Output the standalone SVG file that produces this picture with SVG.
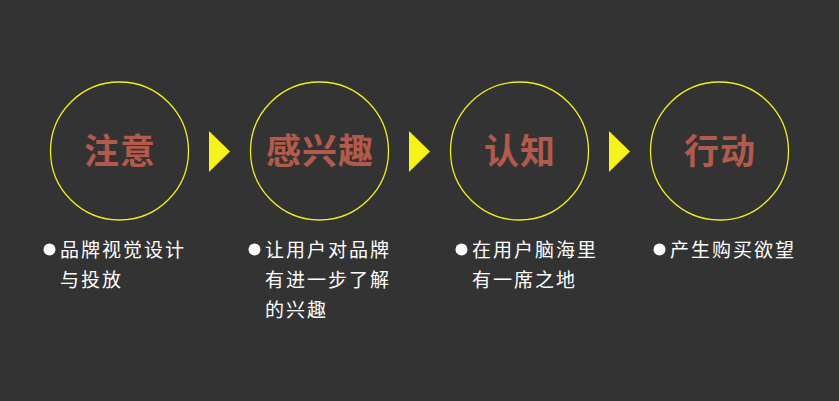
<svg xmlns="http://www.w3.org/2000/svg" width="839" height="401" viewBox="0 0 839 401">
<style>
.ring{fill:none;stroke:#f2ef1f;stroke-width:1.3}
.arrow{fill:#f7f21a}
.title{font-family:"Noto Sans CJK SC",sans-serif;font-weight:bold;font-size:35px;fill:#b25a4b;text-anchor:middle;letter-spacing:1px}
.desc{font-family:"Noto Sans CJK SC",sans-serif;font-size:19px;fill:#ffffff;letter-spacing:2px}
.dot{fill:#ffffff}
</style>
<rect width="839" height="401" fill="#333333"/>
<g id="connectors">
<polygon class="arrow" points="209,131 230,151.5 209,172"/>
<polygon class="arrow" points="409,131 430,151.5 409,172"/>
<polygon class="arrow" points="609,131 630,151.5 609,172"/>
</g>
<g id="node1">
<circle class="ring" cx="119.5" cy="151" r="69"/>
<text class="title" x="120" y="164">注意</text>
<circle class="dot" cx="49.5" cy="249.5" r="6"/>
<text class="desc" x="60" y="257">品牌视觉设计</text>
<text class="desc" x="60" y="287">与投放</text>
</g>
<g id="node2">
<circle class="ring" cx="319.5" cy="151" r="69"/>
<text class="title" x="320" y="164">感兴趣</text>
<circle class="dot" cx="254.5" cy="249.5" r="6"/>
<text class="desc" x="265" y="257">让用户对品牌</text>
<text class="desc" x="265" y="287">有进一步了解</text>
<text class="desc" x="265" y="317">的兴趣</text>
</g>
<g id="node3">
<circle class="ring" cx="519.5" cy="151" r="69"/>
<text class="title" x="520" y="164">认知</text>
<circle class="dot" cx="461.5" cy="249.5" r="6"/>
<text class="desc" x="472" y="257">在用户脑海里</text>
<text class="desc" x="472" y="287">有一席之地</text>
</g>
<g id="node4">
<circle class="ring" cx="719.5" cy="151" r="69"/>
<text class="title" x="720" y="164">行动</text>
<circle class="dot" cx="659.5" cy="249.5" r="6"/>
<text class="desc" x="670" y="257">产生购买欲望</text>
</g>
</svg>
